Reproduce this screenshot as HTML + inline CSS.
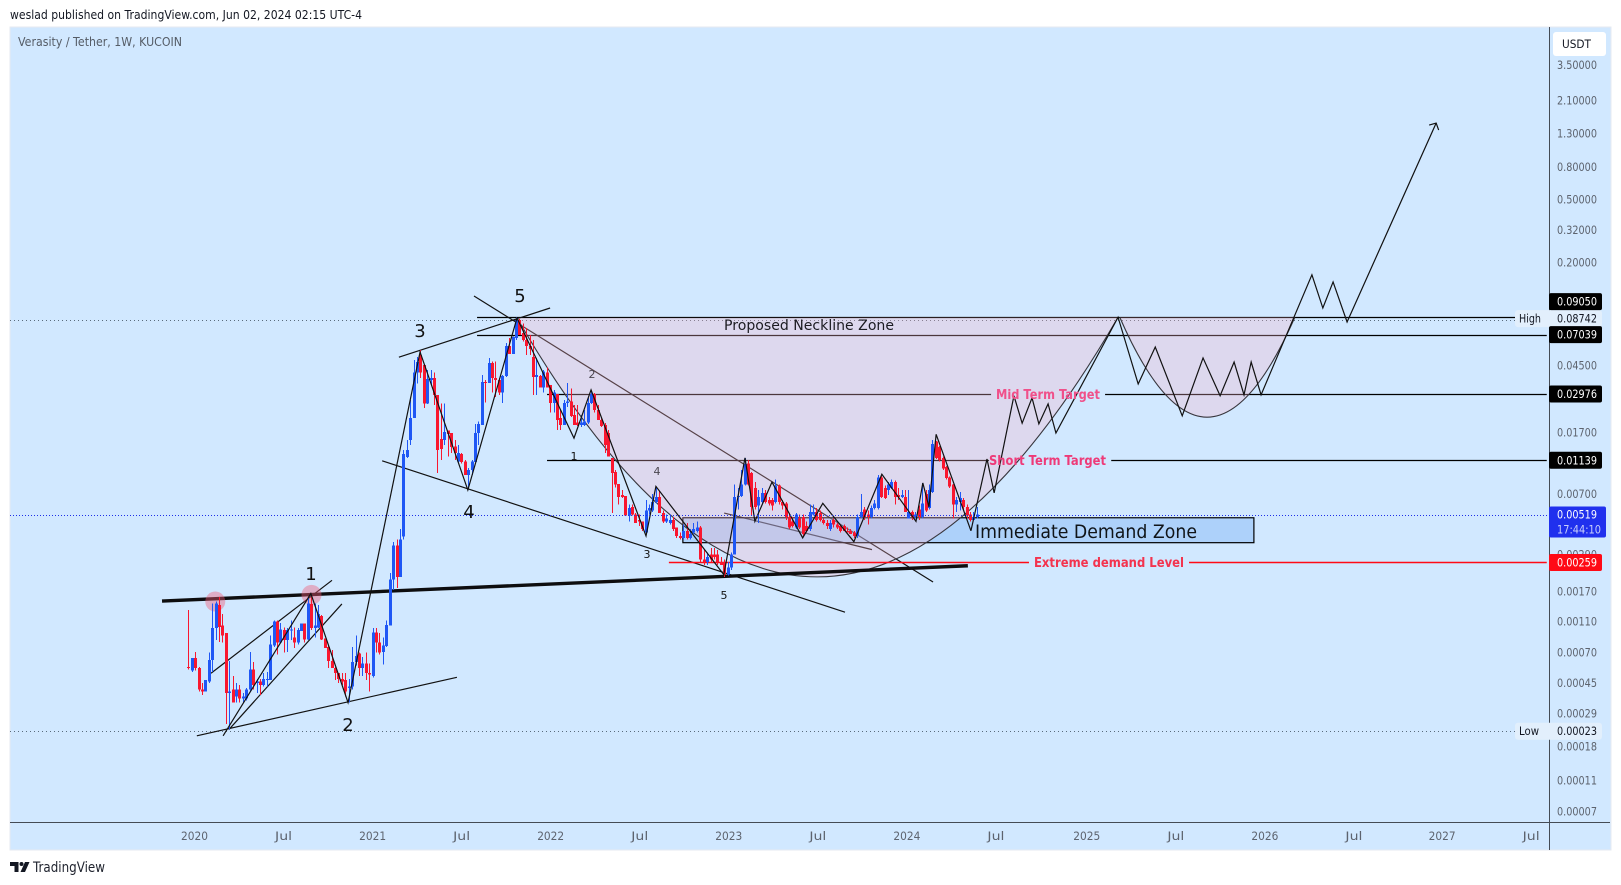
<!DOCTYPE html>
<html lang="en">
<head>
<meta charset="utf-8">
<title>Verasity / Tether, 1W, KUCOIN</title>
<style>
html,body{margin:0;padding:0;background:#fff;width:1621px;height:885px;overflow:hidden}
svg{display:block}
text{font-family:"DejaVu Sans","Liberation Sans",sans-serif}
</style>
</head>
<body>
<svg id="chart" xmlns="http://www.w3.org/2000/svg" width="1621" height="885" viewBox="0 0 1621 885">
  <text x="10" y="19" font-size="12" fill="#131722" textLength="352" lengthAdjust="spacingAndGlyphs">weslad published on TradingView.com, Jun 02, 2024 02:15 UTC-4</text>
  <rect x="10" y="27" width="1601" height="823" fill="#d1e8ff" stroke="#e6eaf0" stroke-width="1"/>
  <g id="layer-lines"></g>
  <g id="layer-zone"></g>
  <g id="layer-arcs"></g>
  <g id="layer-candles" shape-rendering="crispEdges"></g>
  <g id="layer-waves"></g>

  <g fill="#111" text-anchor="middle">
    <text x="311" y="580" font-size="18">1</text>
    <text x="348" y="731" font-size="18">2</text>
    <text x="420" y="337" font-size="18">3</text>
    <text x="469" y="518" font-size="18">4</text>
    <text x="520" y="302" font-size="18">5</text>
    <text x="574" y="460" font-size="11">1</text>
    <text x="592" y="378" font-size="11" fill="#4a4650">2</text>
    <text x="647" y="558" font-size="11">3</text>
    <text x="657" y="475" font-size="11" fill="#4a4650">4</text>
    <text x="724" y="599" font-size="11">5</text>
  </g>
  <text x="724" y="330" font-size="14" fill="#1c1c22" textLength="170" lengthAdjust="spacingAndGlyphs">Proposed Neckline Zone</text>
  <text x="996" y="399" font-size="13" font-weight="bold" fill="#f0508a" textLength="104" lengthAdjust="spacingAndGlyphs">Mid Term Target</text>
  <text x="989" y="465" font-size="13" font-weight="bold" fill="#ee3a78" textLength="117" lengthAdjust="spacingAndGlyphs">Short Term Target</text>
  <text x="975" y="538" font-size="19" fill="#101418" textLength="222" lengthAdjust="spacingAndGlyphs">Immediate Demand Zone</text>
  <text x="1034" y="567" font-size="13" font-weight="bold" fill="#f3334e" textLength="150" lengthAdjust="spacingAndGlyphs">Extreme demand Level</text>

  <text x="18" y="46" font-size="12" fill="#555c66" textLength="164" lengthAdjust="spacingAndGlyphs">Verasity / Tether, 1W, KUCOIN</text>

  <g id="layer-axis">
    <line x1="1549.5" y1="27" x2="1549.5" y2="850" stroke="#444b55" stroke-width="1"/>
    <line x1="10" y1="822.5" x2="1610" y2="822.5" stroke="#444b55" stroke-width="1"/>
  </g>
  <g id="layer-labels"></g>

  <g>
    <rect x="1553" y="32" width="53" height="24" rx="3" fill="#ffffff"/>
    <text x="1562" y="48" font-size="11.500" fill="#131722" textLength="29" lengthAdjust="spacingAndGlyphs">USDT</text>
  </g>

  <g>
    <path fill="#131722" d="M10 862h8.5v10h-4v-6h-4.500zM25 862h4.500l-4.500 10h-4.500z"/>
    <circle cx="21.500" cy="864" r="2" fill="#131722"/>
    <text x="33" y="872" font-size="14" fill="#1e222d" textLength="72" lengthAdjust="spacingAndGlyphs">TradingView</text>
  </g>
</svg>

<script>
// ---- candle data (weekly bars) ----
const opens = [
.00057,.00054,.00065,.00056,.00041,.0004,.00046,.00063,.001,.0014,
.00104,.00093,.00039,.00041,.00037,.00041,.00036,.00036,.00041,.00055,
.00045,.00046,.00044,.00047,.00047,.00078,.0011,.00081,.00097,.00084,
.00097,.00087,.00081,.00096,.00107,.00085,.00142,.001,.00101,.00119,
.00086,.00076,.00062,.00056,.00052,.00048,.00047,.00042,.00043,.00061,
.00069,.00056,.0006,.00052,.0005,.00094,.00081,.00071,.00077,.00104,
.00203,.0033,.0021,.00378,.0119,.0153,.021,.0405,.0524,.0453,
.026,.0365,.0376,.0294,.0155,.0153,.0175,.0169,.0139,.0112,
.0125,.0112,.0092,.0099,.0111,.0169,.019,.0355,.035,.0468,
.0376,.0365,.0305,.0386,.0597,.0532,.0672,.087,.0723,.0651,
.0597,.0508,.0381,.0386,.0328,.0405,.0339,.0262,.0298,.021,
.019,.0262,.0266,.022,.0197,.019,.019,.0197,.0262,.0298,
.0236,.0204,.019,.0169,.0118,.0096,.0081,.0069,.0068,.0051,
.0058,.0052,.0048,.0047,.004,.0055,.0055,.0062,.0067,.0053,
.0047,.0046,.0048,.0043,.0038,.0037,.0041,.0037,.004,.0041,
.0043,.0027,.0026,.0029,.0029,.0029,.0026,.0026,.00217,.0024,
.0029,.0067,.0068,.008,.0109,.0095,.0076,.0059,.0062,.0071,
.0064,.0064,.0062,.0079,.0062,.0061,.005,.0047,.0043,.0049,
.005,.0044,.0042,.0052,.0054,.0053,.0048,.0046,.0042,.0048,
.0045,.0044,.0044,.0041,.0041,.004,.0038,.005,.0056,.0052,
.005,.0057,.0057,.0089,.0076,.0074,.0076,.0083,.0069,.0067,
.0067,.0049,.0054,.005,.0056,.005,.007,.0057,.0072,.0149,
.0138,.0118,.0103,.0089,.008,.006,.0062,.0064,.0058,.0052,
.0048,.005];
const highs = [
.0013,.00065,.00071,.00057,.00045,.00047,.0007,.00143,.00147,.00157,
.00123,.00093,.00062,.0005,.00045,.00044,.00039,.00042,.00071,.00061,
.00048,.00048,.00052,.00053,.0009,.00112,.00112,.00108,.00101,.001,
.00112,.00101,.001,.00107,.00107,.00157,.00162,.00143,.0014,.00121,
.00086,.00077,.00073,.00057,.00052,.00052,.00052,.00048,.00076,.0009,
.0007,.00066,.0007,.0006,.001,.001,.00093,.00087,.00112,.00223,
.00349,.0036,.0042,.0132,.0153,.0273,.0487,.0508,.0563,.046,
.0422,.0422,.0406,.0294,.026,.026,.0175,.0169,.0153,.0142,
.0127,.0114,.0102,.0114,.0193,.02,.0392,.0365,.05,.0475,
.0475,.0376,.0392,.0622,.0672,.0685,.0905,.0885,.0827,.0775,
.07,.0651,.05,.0392,.0422,.0436,.0339,.0316,.0298,.0236,
.0273,.0348,.0323,.0254,.0254,.022,.0236,.0281,.031,.0302,
.0254,.0208,.0196,.0177,.0118,.0099,.0081,.0074,.0068,.006,
.006,.0053,.0052,.0047,.0064,.006,.007,.0078,.0073,.0055,
.0052,.0052,.005,.0043,.004,.0045,.0046,.0042,.0046,.0047,
.0044,.0031,.003,.0032,.0032,.0031,.0028,.0027,.0026,.003,
.008,.0076,.0099,.0118,.0114,.0096,.0083,.0074,.0076,.0074,
.0067,.0066,.0086,.008,.0064,.0062,.0052,.005,.0053,.0052,
.0052,.0047,.006,.006,.0057,.0055,.0049,.0048,.0048,.0049,
.0046,.0045,.0045,.0043,.0042,.0041,.0052,.007,.0058,.0055,
.0059,.0064,.0092,.0091,.0079,.0083,.0086,.0085,.0076,.0074,
.0074,.0074,.0055,.0054,.0059,.0082,.0074,.008,.0153,.0151,
.014,.012,.0105,.009,.0081,.0067,.0072,.0066,.006,.0054,
.0054,.0058];
const lows = [
.00055,.00053,.00054,.0004,.00038,.0004,.00045,.00053,.00084,.00082,
.00081,.00025,.00023,.00034,.00034,.00034,.00034,.00035,.0004,.00041,
.00039,.00038,.00043,.00043,.00047,.00076,.00068,.0008,.0007,.00071,
.00084,.00075,.00079,.00096,.00081,.00084,.00097,.00087,.001,.00084,
.00075,.00056,.00056,.00047,.00045,.00044,.00037,.00034,.00041,.00058,
.0005,.0005,.00047,.0004,.00049,.0007,.00068,.00059,.00076,.00104,
.00174,.00179,.0021,.0036,.0118,.0142,.021,.0347,.0376,.0243,
.0258,.0339,.0254,.0095,.0114,.0142,.012,.0127,.0114,.011,
.0109,.0092,.0077,.0092,.0111,.0142,.019,.0263,.035,.0305,
.0285,.0294,.0262,.038,.0532,.0532,.0651,.07,.0638,.0524,
.0524,.0294,.0294,.0328,.0305,.0328,.0228,.0228,.0177,.0177,
.019,.0247,.0213,.019,.0187,.0185,.0187,.0193,.0258,.0228,
.0204,.0185,.0127,.012,.0053,.0077,.006,.0066,.0051,.0047,
.0051,.0046,.0044,.0041,.004,.0052,.0054,.0061,.0053,.0046,
.0046,.0045,.0041,.0037,.0036,.0036,.0036,.0036,.0039,.004,
.0026,.0025,.0025,.0026,.0027,.0025,.0025,.0021,.00214,.00233,
.0029,.0056,.0067,.0079,.0079,.0051,.0056,.0046,.006,.0061,
.0059,.0055,.0061,.006,.0056,.0048,.0042,.0043,.0042,.0042,
.0038,.004,.0041,.0051,.0047,.0047,.0045,.0042,.0041,.0043,
.0042,.004,.0041,.004,.0039,.0037,.0037,.0049,.0048,.0045,
.0049,.0056,.0056,.0066,.0065,.0069,.0075,.006,.0064,.0066,
.0055,.0049,.0048,.0049,.0048,.0049,.0054,.0056,.0071,.0116,
.0112,.0099,.0086,.0076,.0049,.0054,.0055,.0055,.0049,.0047,
.0048,.0049];
const closes = [
.00056,.00065,.00056,.00041,.0004,.00047,.00063,.001,.00143,.00102,
.0009,.00039,.0004,.00034,.00041,.00036,.00037,.00041,.00055,.00044,
.00046,.00044,.00048,.00048,.00079,.0011,.00081,.00098,.00084,.00097,
.00098,.00081,.00097,.00107,.00085,.00143,.001,.00104,.00123,.00085,
.00075,.00062,.00056,.00052,.00048,.00046,.0004,.00043,.00061,.00067,
.00056,.0006,.00052,.00051,.00094,.00081,.0007,.00078,.00105,.00203,
.0033,.0021,.0036,.0125,.0132,.021,.0405,.0473,.0405,.026,
.0371,.0376,.0294,.0132,.0134,.0172,.0167,.0138,.0127,.0127,
.0111,.0092,.0099,.0112,.0169,.0193,.0355,.035,.0468,.0376,
.0365,.0305,.0386,.0597,.0532,.0678,.087,.07,.0651,.0597,
.0573,.0381,.0392,.0328,.0411,.0328,.0262,.0305,.0204,.019,
.0262,.0266,.0216,.019,.019,.0197,.02,.0262,.0298,.0236,
.0204,.0187,.0142,.012,.0095,.008,.0067,.0067,.0051,.0057,
.0052,.0046,.0047,.0042,.0055,.0057,.0062,.0067,.0053,.0047,
.0049,.0048,.0042,.0038,.0037,.0041,.0037,.0039,.0042,.0043,
.0027,.0026,.0028,.0027,.0028,.0026,.0025,.00217,.0024,.0029,
.0067,.0068,.008,.0108,.008,.0058,.0058,.0067,.0071,.0062,
.0061,.0059,.0079,.0062,.0059,.005,.0043,.0044,.0052,.0043,
.0039,.0041,.0054,.0054,.0048,.0048,.0046,.0044,.0046,.0045,
.0043,.0041,.0041,.004,.0039,.0038,.005,.0054,.005,.005,
.0057,.0061,.0089,.0067,.0066,.008,.0083,.0067,.0067,.0069,
.0054,.0054,.005,.0052,.005,.0061,.0055,.0074,.0144,.0118,
.0114,.0101,.0088,.0078,.006,.0064,.0066,.0058,.0051,.0048,
.005,.00519];

// ---- axis ticks ----
const priceTicks = [3.5,2.1,1.3,.8,.5,.32,.2,.045,.017,.007,.0029,.0017,.0011,.0007,.00045,.00029,.00018,.00011,.00007];
const timeTickYears = [2020,2020.5,2021,2021.5,2022,2022.5,2023,2023.5,2024,2024.5,2025.01,2025.51,2026.01,2026.51,2027.005,2027.505];
const timeTickLabels = ["2020","Jul","2021","Jul","2022","Jul","2023","Jul","2024","Jul","2025","Jul","2026","Jul","2027","Jul"];

// ---- reference prices ----
const highPrice = 0.08742;
const lowPrice = 0.000226;
const necklineUpper = 0.0905;
const necklineLower = 0.07039;
const midTarget = 0.02976;
const shortTarget = 0.01139;
const extremeDemand = 0.00259;

// ---- drawings: [bar index, price] ----
const necklineUpperLine = [[84.6,necklineUpper],[398,necklineUpper]];
const necklineLowerLine = [[84.6,necklineLower],[398,necklineLower]];
const midTargetLeft = [[105.1,midTarget],[235.2,midTarget]];
const midTargetRight = [[268.6,midTarget],[398,midTarget]];
const shortTargetLeft = [[105.1,shortTarget],[234.6,shortTarget]];
const shortTargetRight = [[270.4,shortTarget],[398,shortTarget]];
const extremeLeft = [[140.8,extremeDemand],[246.3,extremeDemand]];
const extremeRight = [[293.2,extremeDemand],[398,extremeDemand]];
const supportLine = [[-7.7,.00148],[228.4,.00247]];
const channelUpper = [[6.65,.00052],[42.1,.0020]];
const channelLower = [[11.9,.00023],[45,.00142]];
const baseTrend = [[2.5,.00021],[78.7,.00049]];
const topTrend = [[61.7,.0507],[106,.1035]];
const fallingUpper = [[83.7,.1232],[218.2,.00195]];
const fallingLower = [[56.8,.0113],[192.4,.00126]];
const innerWedge = [[157,.0053],[200.3,.00312]];
const impulseWave = [[10.2,.00021],[35.9,.00165],[46.8,.00034],[67.9,.0547],[81.9,.0074],[96.3,.0895]];
const correctionWave = [[96.3,.0895],[113,.0157],[118,.0316],[134.1,.0038],[137,.0078],[156.9,.00217],[163.1,.0118],[166,.0047],[171,.0083],[180,.0037],[185.9,.0061],[195,.0035],[203.2,.0093],[213.2,.0047],[215.2,.0082],[217,.0058],[219.1,.0166],[229.3,.0041]];
const projectionWave = [[229.3,.0041],[234,.0116],[236.1,.0071],[241.9,.029],[244.3,.0195],[247.2,.0281],[249.2,.0193],[251.9,.0258],[254.2,.0169],[272.4,.0905],[278.3,.0344],[283.3,.0588],[291.2,.0217],[297.3,.0502],[302.3,.029],[306.4,.0473],[309.3,.0294],[311.4,.0473],[314.3,.0294],[329.2,.1675],[332.4,.1035],[335.4,.151],[339.5,.0845],[365.6,1.51]];
const cupArc = [[96.3,.0895],[184.2,.0000491],[272.4,.0905]];
const handleArc = [[272.9,.0905],[298.4,.0050],[324.2,.0905]];
const demandZone = [[144.9,.00495],[312.2,.00345]];

// ---- axis functions ----
function yOf(price){ return 394 - 69 * Math.log(price / 0.02976); }
function xOfYear(year){ return 194.5 + (year - 2020) * 178.1; }
function xOfBar(bar){ return xOfYear(2019.9652 + bar / 52.18); }

const NS = 'http://www.w3.org/2000/svg';
const layerLines = document.getElementById('layer-lines');
const layerZone = document.getElementById('layer-zone');
const layerArcs = document.getElementById('layer-arcs');
const layerCandles = document.getElementById('layer-candles');
const layerWaves = document.getElementById('layer-waves');
const layerAxis = document.getElementById('layer-axis');
const layerLabels = document.getElementById('layer-labels');

function make(tag, attrs){
  const el = document.createElementNS(NS, tag);
  for (const k in attrs) el.setAttribute(k, attrs[k]);
  return el;
}
function drawLine(parent, pts, name, color, width){
  const flat = pts.length === 2 && pts[0][1] === pts[1][1];
  const yPix = function(price){ return flat ? Math.round(yOf(price)) + 0.5 : yOf(price); };
  const el = make('polyline', {points: pts.map(p => xOfBar(p[0]).toFixed(2) + ',' + yPix(p[1]).toFixed(2)).join(' '), fill:'none', stroke:color, 'stroke-width':width, 'stroke-linejoin':'miter'});
  
  
  parent.appendChild(el);
}
function drawDotted(price, name, color, dash){
  const y = Math.round(yOf(price)) + 0.5;
  const el = make('line', {x1:10, x2:1549, y1:y, y2:y, stroke:color, 'stroke-width':1, 'stroke-dasharray':dash});
  
  
  layerLines.appendChild(el);
}
function arcPath(a){
  return 'M' + xOfBar(a[0][0]) + ' ' + yOf(a[0][1]) + ' Q' + xOfBar(a[1][0]) + ' ' + yOf(a[1][1]) + ' ' + xOfBar(a[2][0]) + ' ' + yOf(a[2][1]);
}
function drawArc(a, name){
  const fillEl = make('path', {d: arcPath(a) + ' Z', fill:'rgba(247,180,200,0.3)', stroke:'none'});
  
  
  layerArcs.appendChild(fillEl);
  const strokeEl = make('path', {d: arcPath(a), fill:'none', stroke:'#37353c', 'stroke-width':1.1});
  
  
  layerArcs.appendChild(strokeEl);
}

// dotted reference lines
drawDotted(highPrice, 'all-time-high-line', '#5a6b7c', '1 3');
drawDotted(lowPrice, 'all-time-low-line', '#5a6b7c', '1 3');

// horizontal levels
drawLine(layerLines, necklineUpperLine, 'neckline-upper-line', '#000', 1.2);
drawLine(layerLines, necklineLowerLine, 'neckline-lower-line', '#000', 1.2);
drawLine(layerLines, midTargetLeft, 'mid-target-line-left', '#000', 1.2);
drawLine(layerLines, midTargetRight, 'mid-target-line-right', '#000', 1.2);
drawLine(layerLines, shortTargetLeft, 'short-target-line-left', '#000', 1.2);
drawLine(layerLines, shortTargetRight, 'short-target-line-right', '#000', 1.2);

// trend lines
drawLine(layerLines, channelUpper, 'channel-upper-line', '#111', 1.2);
drawLine(layerLines, channelLower, 'channel-lower-line', '#111', 1.2);
drawLine(layerLines, baseTrend, 'base-trend-line', '#111', 1.2);
drawLine(layerLines, topTrend, 'wave-3-5-trend-line', '#111', 1.2);
drawLine(layerLines, fallingUpper, 'falling-wedge-upper-line', '#111', 1.2);
drawLine(layerLines, fallingLower, 'falling-wedge-lower-line', '#111', 1.2);
drawLine(layerLines, innerWedge, 'inner-wedge-line', '#111', 1.2);

// demand zone rectangle
const zoneX = xOfBar(demandZone[0][0]);
const zoneTop = yOf(demandZone[0][1]);
const zoneEl = make('rect', {x:zoneX, y:zoneTop, width:xOfBar(demandZone[1][0]) - zoneX, height:yOf(demandZone[1][1]) - zoneTop, fill:'rgba(106,166,241,0.35)', stroke:'#000', 'stroke-width':1.2});


layerZone.appendChild(zoneEl);

// cup arcs
drawArc(cupArc, 'cup-arc');
drawArc(handleArc, 'handle-arc');

// red level & thick support line on top of fill
drawLine(layerArcs, extremeLeft, 'extreme-demand-line-left', '#ff0a16', 1.6);
drawLine(layerArcs, extremeRight, 'extreme-demand-line-right', '#ff0a16', 1.6);
drawLine(layerArcs, supportLine, 'thick-support-line', '#0d0d0f', 3.4);

// resistance touch circles
const touchBars = [7.9, 36.1];
const touchPrices = [.00147, .00162];
touchBars.forEach(function(bar, n){
  const c = make('circle', {cx:xOfBar(bar), cy:yOf(touchPrices[n]), r:10, fill:'rgba(240,90,120,0.42)'});
  
  
  layerArcs.appendChild(c);
});

// candles
const upColor = '#1f57f5';
const downColor = '#f9172f';
closes.forEach(function(close, i){
  const x = Math.round(xOfBar(i));
  const color = close >= opens[i] ? upColor : downColor;
  const top = yOf(Math.max(opens[i], close));
  const bottom = yOf(Math.min(opens[i], close));
  const wick = make('rect', {x:x, y:yOf(highs[i]), width:1, height:yOf(lows[i]) - yOf(highs[i]), fill:color});
  
  
  layerCandles.appendChild(wick);
  const body = make('rect', {x:x - 1, y:top, width:3, height:Math.max(1, bottom - top), fill:color});
  
  
  layerCandles.appendChild(body);
});

// wave paths
drawLine(layerWaves, impulseWave, 'impulse-wave-path', '#111', 1.2);
drawLine(layerWaves, correctionWave, 'correction-wave-path', '#111', 1.2);
drawLine(layerWaves, projectionWave, 'projection-wave-path', '#111', 1.2);
const tip = projectionWave[projectionWave.length - 1];
const tipX = xOfBar(tip[0]);
const tipY = yOf(tip[1]);
const arrowHead = make('polyline', {points:(tipX - 7) + ',' + (tipY + 2) + ' ' + tipX + ',' + tipY + ' ' + (tipX + 2.5) + ',' + (tipY + 7), fill:'none', stroke:'#111', 'stroke-width':1.2});


layerWaves.appendChild(arrowHead);

// current price dotted line
const lastClose = closes[closes.length - 1];
drawDotted(lastClose, 'current-price-line', '#1e2fe8', '1 2');
layerWaves.appendChild(layerLines.lastChild);

// axis text helper
function axisText(parent, x, y, str, color, width, anchor){
  const t = make('text', {x:x, y:y, fill:color, 'font-size':11.5, 'text-anchor':anchor, 'dominant-baseline':'central', textLength:width, lengthAdjust:'spacingAndGlyphs'});
  t.textContent = str;
  parent.appendChild(t);
  return t;
}

// price ticks
priceTicks.forEach(function(p){
  const t = axisText(layerAxis, 1557, yOf(p), p.toFixed(5), '#5d636e', 40, 'start');
  
  
});

// time ticks
timeTickYears.forEach(function(year, n){
  const label = timeTickLabels[n];
  const t = axisText(layerAxis, xOfYear(year), 836, label, '#5d636e', label.length === 4 ? 27 : 17, 'middle');
  
  
});

// price label boxes
function priceBox(price, y, bg, fg, name){
  const r = make('rect', {x:1549, y:y - 8.5, width:53, height:17, rx:2, fill:bg});
  
  
  layerLabels.appendChild(r);
  const t = axisText(layerLabels, 1557, y, price.toFixed(5), fg, 40, 'start');
  
  
}
function sideBox(price, y, word, name){
  const r = make('rect', {x:1515, y:y - 8.5, width:87, height:17, rx:3, fill:'#e2effc'});
  
  
  layerLabels.appendChild(r);
  const w = axisText(layerLabels, 1519, y, word, '#131722', word.length === 4 ? 22 : 20, 'start');
  
  
  const v = axisText(layerLabels, 1557, y, price.toFixed(5), '#131722', 40, 'start');
  
  
}
sideBox(highPrice, yOf(highPrice) - 1, 'High', 'high-label');
sideBox(lowPrice, yOf(lowPrice) + 0.5, 'Low', 'low-label');
priceBox(necklineUpper, Math.min(yOf(necklineUpper), yOf(highPrice) - 18), '#000', '#fff', 'neckline-upper-price-label');
priceBox(necklineLower, yOf(necklineLower), '#000', '#fff', 'neckline-lower-price-label');
priceBox(midTarget, yOf(midTarget), '#000', '#fff', 'mid-target-price-label');
priceBox(shortTarget, yOf(shortTarget), '#000', '#fff', 'short-target-price-label');
priceBox(extremeDemand, yOf(extremeDemand), '#ff0a16', '#fff', 'extreme-demand-price-label');

// current price label with countdown
const curY = yOf(lastClose);
const curBox = make('rect', {x:1549, y:curY - 8, width:57, height:31, rx:2, fill:'#2030ee'});


layerLabels.appendChild(curBox);
const curText = axisText(layerLabels, 1557, curY, lastClose.toFixed(5), '#ffffff', 40, 'start');


const countText = axisText(layerLabels, 1557, curY + 15, '17:44:10', '#c9cffb', 44, 'start');


</script>
</body>
</html>
